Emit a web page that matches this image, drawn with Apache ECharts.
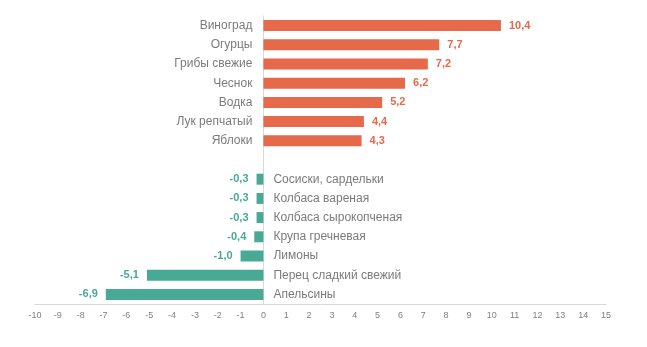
<!DOCTYPE html>
<html><head><meta charset="utf-8">
<script src="https://cdn.jsdelivr.net/npm/echarts@6/dist/echarts.min.js"></script>
<style>html,body{margin:0;padding:0;background:#fff}#c{width:647px;height:347px}</style>
</head><body><div id="c"></div>
<script>
const categories = ['Виноград','Огурцы','Грибы свежие','Чеснок','Водка','Лук репчатый','Яблоки','',
  'Сосиски, сардельки','Колбаса вареная','Колбаса сырокопченая','Крупа гречневая','Лимоны','Перец сладкий свежий','Апельсины'];
const values = [10.4, 7.7, 7.2, 6.2, 5.2, 4.4, 4.3, null, -0.3, -0.3, -0.3, -0.4, -1.0, -5.1, -6.9];
const xMin = -10, xMax = 15, xStep = 1;
const posColor = '#E5694A', negColor = '#48A994';

const fmt = v => v.toFixed(1).replace('.', ',');
const barData = values.map(v => v === null ? null : {
  value: v,
  itemStyle: { color: v >= 0 ? posColor : negColor },
  label: { position: v >= 0 ? 'right' : 'left', color: v >= 0 ? posColor : negColor }
});
const nameData = categories.map((c, i) => values[i] === null ? null : {
  value: [0, c],
  label: { position: values[i] >= 0 ? 'left' : 'right', distance: values[i] >= 0 ? 11 : 10, formatter: c }
});

const chart = echarts.init(document.getElementById('c'), null, { renderer: 'canvas' });
chart.setOption({
  animation: false,
  textStyle: { fontFamily: 'Liberation Sans, Arial, sans-serif' },
  grid: { left: 35, right: 41, top: 16, bottom: 43, containLabel: false },
  xAxis: {
    type: 'value', min: xMin, max: xMax, interval: xStep,
    axisLine: { show: true, lineStyle: { color: '#d9d9d9', width: 1 } },
    axisTick: { show: false },
    splitLine: { show: false },
    axisLabel: { color: '#7f7f7f', fontSize: 9, margin: 7 }
  },
  yAxis: {
    type: 'category', data: categories, inverse: true,
    axisLine: { show: true, onZero: true, lineStyle: { color: '#d9d9d9', width: 1 } },
    axisTick: { show: false },
    axisLabel: { show: false },
    splitLine: { show: false }
  },
  series: [
    {
      type: 'bar', data: barData, barWidth: 11,
      label: { show: true, fontSize: 11, fontWeight: 'bold', distance: 8, formatter: p => fmt(p.value) }
    },
    {
      type: 'scatter', data: nameData, symbolSize: 0, silent: true,
      label: { show: true, color: '#595959', fontSize: 12 }
    }
  ]
});
</script></body></html>
